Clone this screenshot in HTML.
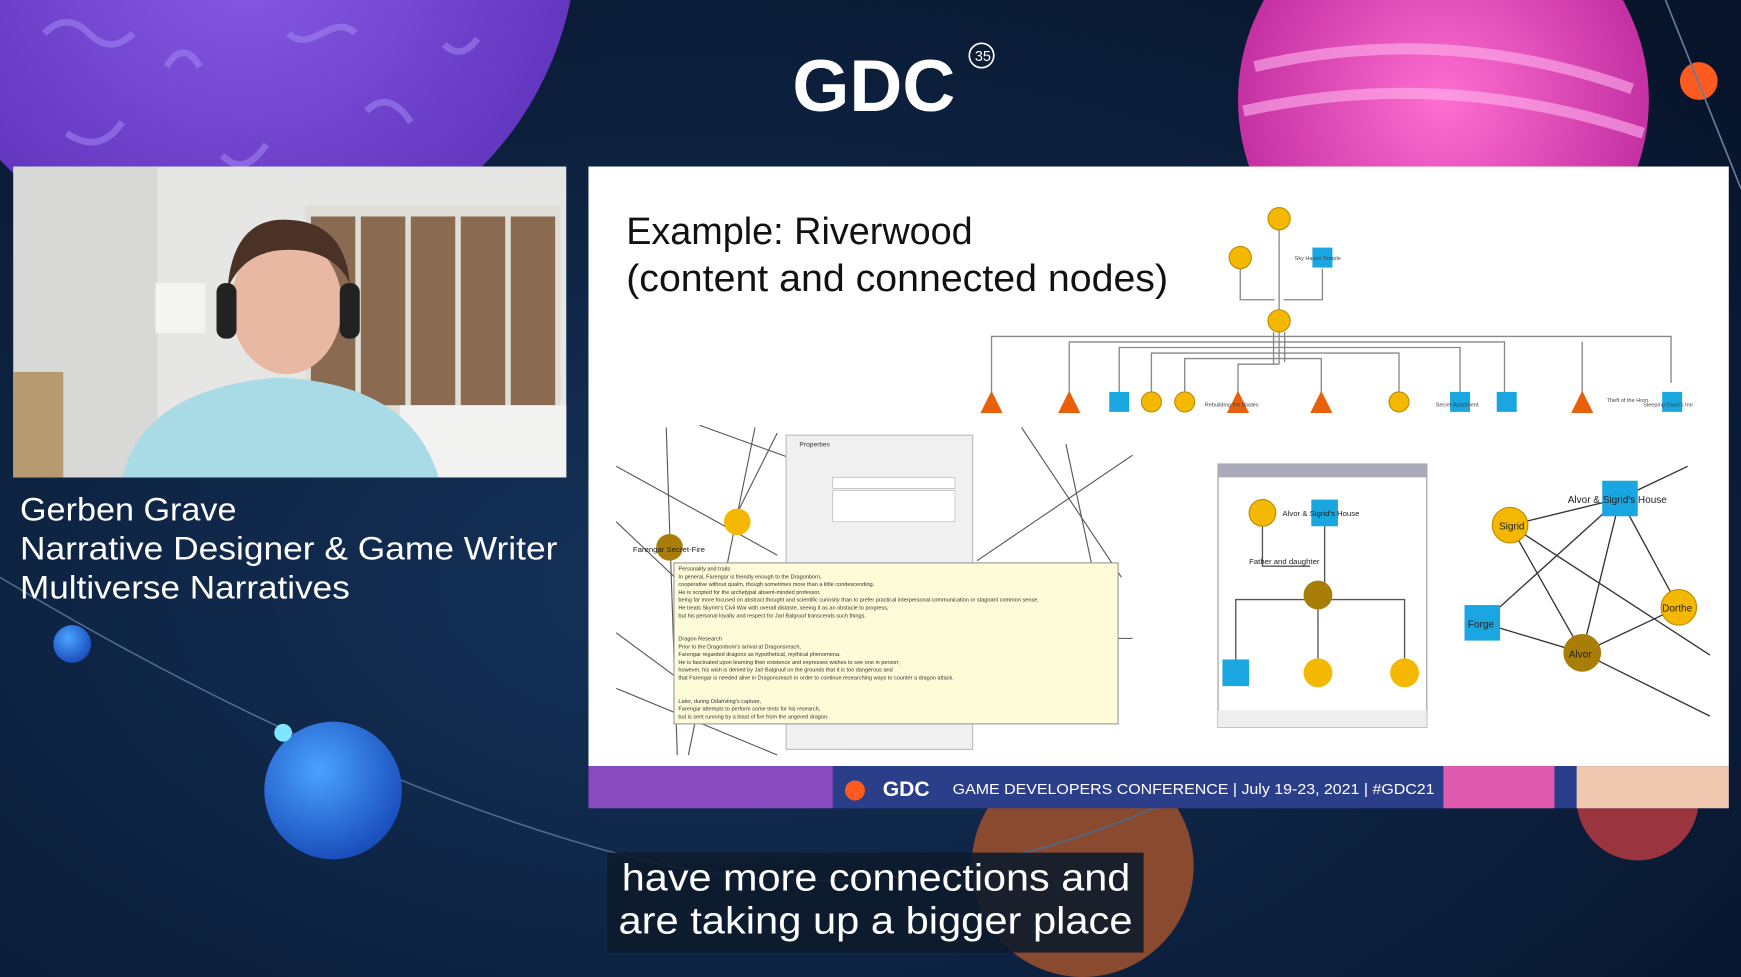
<!DOCTYPE html>
<html><head><meta charset="utf-8"><style>
html,body{margin:0;padding:0;background:#0b1830;overflow:hidden}
svg{display:block}
text{font-family:"Liberation Sans",sans-serif}
</style></head><body>
<svg width="1741" height="977" viewBox="0 0 1568 880" preserveAspectRatio="none" xmlns="http://www.w3.org/2000/svg">
<defs>
<radialGradient id="bg" cx="0.4" cy="0.6" r="0.8"><stop offset="0" stop-color="#14325a"/><stop offset="1" stop-color="#07142a"/></radialGradient>
<radialGradient id="blue" cx="0.4" cy="0.35" r="0.7"><stop offset="0" stop-color="#4aa3ff"/><stop offset="1" stop-color="#1749b8"/></radialGradient>
<radialGradient id="pink" cx="0.5" cy="0.5" r="0.6"><stop offset="0" stop-color="#ff6fd0"/><stop offset="1" stop-color="#b8249a"/></radialGradient>
<radialGradient id="purp" cx="0.5" cy="0.5" r="0.6"><stop offset="0" stop-color="#8a5ce8"/><stop offset="1" stop-color="#5b2fb8"/></radialGradient>
</defs>
<rect width="1568" height="880" fill="url(#bg)"/>
<circle cx="220" cy="-60" r="300" fill="url(#purp)"/>
<g stroke="#a88cf5" stroke-width="6" fill="none" opacity="0.5"><path d="M40 30 q20 -20 40 0 t40 0 M150 60 q15 -25 30 0 M260 30 c20 20 40 -20 60 0 M60 120 q30 20 50 -10 M330 100 q20 -20 40 10 M200 140 q20 20 40 -10 M400 40 q15 15 30 -5"/></g>
<circle cx="1300" cy="90" r="185" fill="url(#pink)"/>
<path d="M1130 60 Q1300 20 1470 80 M1120 100 Q1300 60 1480 120" stroke="#ffb3ec" stroke-width="10" fill="none" opacity="0.6"/>
<circle cx="1530" cy="73" r="17" fill="#ff5a1f"/>
<circle cx="975" cy="780" r="100" fill="#8a4a30"/>
<circle cx="1475" cy="720" r="55" fill="#9a3540"/>
<path d="M0 520 Q300 700 560 770 T1100 700" stroke="#4c6a8a" stroke-width="1.5" fill="none"/>
<path d="M1500 0 L1568 170" stroke="#6a7c9a" stroke-width="1.5"/>
<circle cx="65" cy="580" r="17" fill="url(#blue)"/>
<circle cx="300" cy="712" r="62" fill="url(#blue)"/>
<circle cx="255" cy="660" r="8" fill="#7fe6ff"/>
<text x="787" y="100" font-size="66" font-weight="bold" fill="#fff" text-anchor="middle">GDC</text>
<text x="878" y="55" font-size="13" fill="#fff">35</text>
<circle cx="884" cy="50" r="11" fill="none" stroke="#fff" stroke-width="1.5"/>
<rect x="12" y="150" width="498" height="280" fill="#e6e6e4"/>
<rect x="12" y="150" width="130" height="280" fill="#d8d8d6"/>
<rect x="275" y="185" width="230" height="190" fill="#e0dcd6"/>
<g fill="#8a6a50"><rect x="280" y="195" width="40" height="170"/><rect x="325" y="195" width="40" height="170"/><rect x="370" y="195" width="40" height="170"/><rect x="415" y="195" width="40" height="170"/><rect x="460" y="195" width="40" height="170"/></g>
<rect x="12" y="335" width="45" height="95" fill="#b89a70"/>
<rect x="140" y="255" width="45" height="45" fill="#f4f4f2"/>
<rect x="360" y="365" width="150" height="65" fill="#f2f2f0"/>
<path d="M110 430 Q130 350 250 340 Q370 345 395 430 Z" fill="#a9dbe6"/>
<ellipse cx="258" cy="275" rx="50" ry="62" fill="#e9b8a2"/>
<path d="M205 260 Q210 195 260 198 Q310 200 315 255 Q300 225 260 225 Q220 225 205 260Z" fill="#4a3326"/>
<rect x="195" y="255" width="18" height="50" rx="8" fill="#222"/><rect x="306" y="255" width="18" height="50" rx="8" fill="#222"/>
<g fill="#fff" font-size="29"><text x="18" y="469" textLength="195" lengthAdjust="spacingAndGlyphs">Gerben Grave</text><text x="18" y="504" textLength="484" lengthAdjust="spacingAndGlyphs">Narrative Designer &amp; Game Writer</text><text x="18" y="539" textLength="297" lengthAdjust="spacingAndGlyphs">Multiverse Narratives</text></g>
<rect x="530" y="150" width="1027" height="540" fill="#fff"/>
<rect x="530" y="690" width="1027" height="38" fill="#2b3e8a"/>
<rect x="530" y="690" width="220" height="38" fill="#8a4ac0"/>
<rect x="1300" y="690" width="100" height="38" fill="#e05ab0"/>
<rect x="1420" y="690" width="137" height="38" fill="#f0c8b0"/>
<circle cx="770" cy="712" r="9" fill="#ff5a1f"/>
<text x="795" y="717" font-size="19" font-weight="bold" fill="#fff">GDC</text>
<text x="858" y="715" font-size="13" fill="#fff" textLength="434" lengthAdjust="spacingAndGlyphs">GAME DEVELOPERS CONFERENCE  |  July 19-23, 2021  |  #GDC21</text>
<g font-size="34" fill="#111"><text x="564" y="220" textLength="312" lengthAdjust="spacingAndGlyphs">Example: Riverwood</text><text x="564" y="262" textLength="488" lengthAdjust="spacingAndGlyphs">(content and connected nodes)</text></g>
<g stroke="#888" stroke-width="1.2" fill="none">
<path d="M1152 207 V279 M1117 242 V270 H1148 M1191 242 V270 H1156"/>
<path d="M893 355 V303 H1505 V345 M963 355 V308 H1355 V355 M1008 355 V313 H1315 V355 M1037 355 V318 H1260 V355 M1067 355 V323 H1190 V355 M1115 355 V328 H1152 M1152 299 V328"/>
<path d="M1147 299 V328 M1157 299 V326 M1425 355 V308"/>
</g>
<g fill="#f5b800" stroke="#c08a00"><circle cx="1152" cy="197" r="10"/><circle cx="1117" cy="232" r="10"/><circle cx="1152" cy="289" r="10"/><circle cx="1037" cy="362" r="9"/><circle cx="1067" cy="362" r="9"/><circle cx="1260" cy="362" r="9"/></g>
<g fill="#1aa6e0"><rect x="1182" y="223" width="18" height="18"/><rect x="999" y="353" width="18" height="18"/><rect x="1306" y="353" width="18" height="18"/><rect x="1348" y="353" width="18" height="18"/><rect x="1497" y="353" width="18" height="18"/></g>
<g fill="#e8600a"><path d="M893 352 l10 20 h-20z"/><path d="M963 352 l10 20 h-20z"/><path d="M1115 352 l10 20 h-20z"/><path d="M1190 352 l10 20 h-20z"/><path d="M1425 352 l10 20 h-20z"/></g>
<g font-size="5" fill="#444"><text x="1166" y="234">Sky Haven Temple</text><text x="1480" y="366">Sleeping Giant's Inn</text><text x="1447" y="362">Theft of the Horn</text><text x="1085" y="366">Rebuilding the Blades</text><text x="1293" y="366">Secret Apartment</text></g>
<g stroke="#555" stroke-width="1">
<path d="M555 420 L700 500 M600 385 L610 680 M680 385 L620 680 M630 383 L760 430 M555 470 L650 560 M700 390 L660 470 M920 385 L1010 520 M1020 410 L880 505 M960 400 L990 540 M555 620 L700 680 M555 570 L650 640 M1007 575 L1020 575"/>
</g>
<rect x="708" y="392" width="168" height="283" fill="#f0f0f0" stroke="#bbb"/>
<rect x="750" y="430" width="110" height="10" fill="#fff" stroke="#aaa" stroke-width="0.5"/>
<rect x="750" y="442" width="110" height="28" fill="#fff" stroke="#aaa" stroke-width="0.5"/>
<text x="720" y="402" font-size="6" fill="#333">Properties</text>
<rect x="607" y="507" width="400" height="145" fill="#fdfbd8" stroke="#999"/>
<g font-size="5" fill="#333"><text x="611" y="514">Personality and traits</text><text x="611" y="521">In general, Farengar is friendly enough to the Dragonborn,</text><text x="611" y="528">cooperative without qualm, though sometimes more than a little condescending.</text><text x="611" y="535">He is scripted for the archetypal absent-minded professor,</text><text x="611" y="542">being far more focused on abstract thought and scientific curiosity than to prefer practical interpersonal communication or stagnant common sense.</text><text x="611" y="549">He treats Skyrim's Civil War with overall distaste, seeing it as an obstacle to progress,</text><text x="611" y="556">but his personal loyalty and respect for Jarl Balgruuf transcends such things.</text><text x="611" y="577">Dragon Research</text><text x="611" y="584">Prior to the Dragonborn's arrival at Dragonsreach,</text><text x="611" y="591">Farengar regarded dragons as hypothetical, mythical phenomena.</text><text x="611" y="598">He is fascinated upon learning their existence and expresses wishes to see one in person;</text><text x="611" y="605">however, his wish is denied by Jarl Balgruuf on the grounds that it is too dangerous and</text><text x="611" y="612">that Farengar is needed alive in Dragonsreach in order to continue researching ways to counter a dragon attack.</text><text x="611" y="633">Later, during Odahviing's capture,</text><text x="611" y="640">Farengar attempts to perform some tests for his research,</text><text x="611" y="647">but is sent running by a blast of fire from the angered dragon.</text></g>
<circle cx="603" cy="493" r="12" fill="#a87e08"/><circle cx="664" cy="470" r="12" fill="#f5b800"/>
<text x="570" y="497" font-size="7" fill="#222">Farengar Secret-Fire</text>
<rect x="1097" y="418" width="188" height="237" fill="#fff" stroke="#999"/>
<rect x="1097" y="418" width="188" height="12" fill="#aab"/>
<rect x="1097" y="640" width="188" height="15" fill="#eee"/>
<g stroke="#555" stroke-width="1.2" fill="none"><path d="M1137 472 V510 H1180 M1193 472 V525 M1180 540 H1113 V596 M1187 548 V596 M1195 540 H1265 V596"/></g>
<circle cx="1137" cy="462" r="12" fill="#f5b800" stroke="#c08a00"/><rect x="1181" y="450" width="24" height="24" fill="#1aa6e0"/>
<circle cx="1187" cy="536" r="13" fill="#a87e08"/>
<rect x="1101" y="594" width="24" height="24" fill="#1aa6e0"/><circle cx="1187" cy="606" r="13" fill="#f5b800"/><circle cx="1265" cy="606" r="13" fill="#f5b800"/>
<g font-size="7" fill="#222"><text x="1155" y="465">Alvor &amp; Sigrid's House</text><text x="1125" y="508">Father and daughter</text></g>
<g stroke="#333" stroke-width="1.2"><path d="M1360 473 L1459 449 M1459 449 L1520 420 M1459 449 L1425 588 M1459 449 L1512 547 M1360 473 L1425 588 M1360 473 L1540 590 M1459 449 L1335 561 M1335 561 L1425 588 M1425 588 L1512 547 M1425 588 L1540 645"/></g>
<rect x="1443" y="433" width="32" height="32" fill="#1aa6e0"/><circle cx="1360" cy="473" r="16" fill="#f5b800" stroke="#c08a00"/><circle cx="1512" cy="547" r="16" fill="#f5b800" stroke="#c08a00"/><rect x="1319" y="545" width="32" height="32" fill="#1aa6e0"/><circle cx="1425" cy="588" r="17" fill="#a87e08"/>
<g font-size="9" fill="#222"><text x="1412" y="453">Alvor &amp; Sigrid's House</text><text x="1350" y="477">Sigrid</text><text x="1497" y="551">Dorthe</text><text x="1322" y="565">Forge</text><text x="1413" y="592">Alvor</text></g>
<rect x="547" y="768" width="483" height="90" fill="#0d1b2c" opacity="0.9"/>
<g font-size="34" fill="#fff"><text x="560" y="802" textLength="458" lengthAdjust="spacingAndGlyphs">have more connections and</text><text x="557" y="841" textLength="463" lengthAdjust="spacingAndGlyphs">are taking up a bigger place</text></g>
</svg>
</body></html>
